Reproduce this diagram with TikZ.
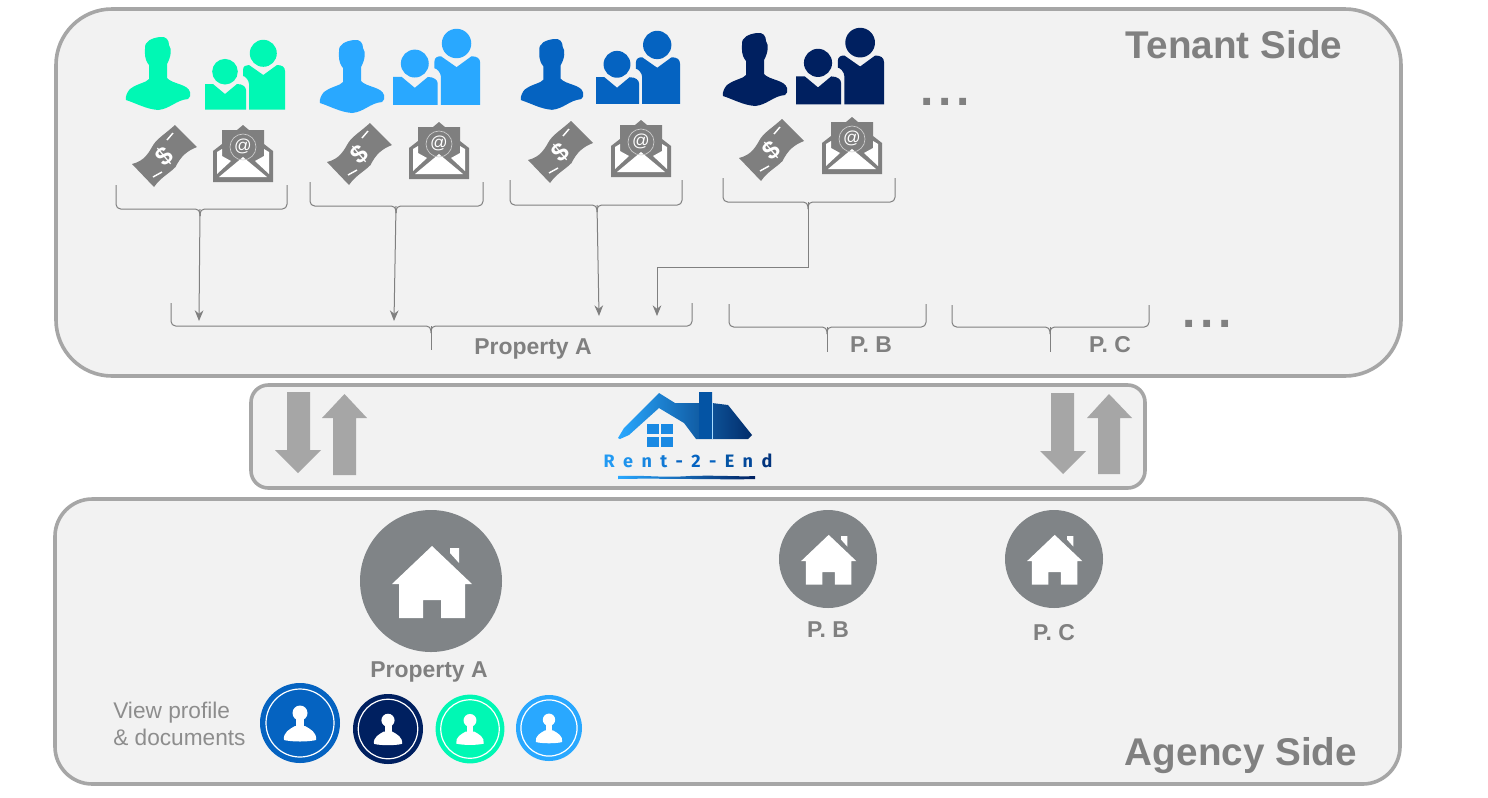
\documentclass[tikz,border=0pt]{standalone}
\usepackage{fontspec}
\setmainfont{Liberation Sans}
\newfontfamily\logofont{Fira Sans}
\definecolor{cgreen}{HTML}{00F8B4}
\definecolor{clight}{HTML}{29A8FF}
\definecolor{cmid}{HTML}{0563C1}
\definecolor{cdark}{HTML}{002060}
\definecolor{boxfill}{HTML}{F2F2F2}
\definecolor{boxline}{HTML}{A6A6A6}
\definecolor{icongray}{HTML}{7F7F7F}
\definecolor{circgray}{HTML}{808487}
\definecolor{txtgray}{HTML}{808080}
\definecolor{arrowgray}{HTML}{A6A6A6}
\definecolor{linegray}{HTML}{808080}
\usetikzlibrary{arrows.meta}
\tikzset{
  panel/.style={draw=boxline,fill=boxfill,line width=2.7pt},
  title/.style={font=\fontsize{29}{30}\selectfont\bfseries,text=txtgray,inner sep=0pt},
  lab/.style={font=\fontsize{17.2}{20}\selectfont\bfseries,text=txtgray,inner sep=0pt},
  note/.style={font=\fontsize{17}{20.3}\selectfont,text=txtgray!90,inner sep=0pt,align=left},
  dotsnode/.style={font=\fontsize{36}{36}\selectfont\bfseries\addfontfeature{LetterSpace=10},text=txtgray,inner sep=0pt},
  bracket/.style={draw=linegray,line width=0.75pt,rounded corners=3.5pt},
  feed/.style={draw=linegray,line width=0.75pt,-{Stealth[length=8pt,width=6.5pt]}},
  flow/.style={fill=arrowgray,draw=none},
  pics/person/.style={code={
    \fill[#1] (2,0) .. controls (8,-1) and (11,3) .. (11,8) .. controls (14,12) and (13,20) .. (9,27)
      -- (9,41) .. controls (14,47) and (30,47) .. (32,55) .. controls (33,58) and (32,61) .. (30,62)
      .. controls (18,63) and (12,72) .. (0,73) .. controls (-12,72) and (-20,67) .. (-32,63)
      .. controls (-33,59) and (-30,54) .. (-28,52) .. controls (-20,46) and (-12,46) .. (-9,42)
      -- (-9,28) .. controls (-14,22) and (-13,16) .. (-13,12) .. controls (-14,4) and (-6,1) .. cycle;
  }},
  pics/pair/.style={code={
    \fill[#1] (58.3,13.3) circle[radius=13.5];
    \fill[#1] (20,31.7) circle[radius=12.8];
    \fill[#1] (38,30) .. controls (38,26) and (41,25) .. (44,25) -- (58.3,35) -- (72,25) .. controls (77,25) and (80,27) .. (80,31) -- (80,69.5) -- (44,69.5) -- (44,44) .. controls (44,40) and (40,36) .. (38,36) -- cycle;
    \fill[#1] (0,44) -- (8,44) -- (20,54) -- (32,44) .. controls (38,44) and (41,47) .. (41,50) -- (41,69.5) -- (0,69.5) -- cycle;
  }},
  pics/money/.style={code={
    \fill[icongray] (-33,9) .. controls (-20,6) and (-16,-3) .. (-11.5,-10.5) .. controls (-7,-17) and (0,-21) .. (10,-30)
      -- (32,-8) .. controls (22,-4) and (16,1) .. (10.5,12) .. controls (5,18) and (-4,22) .. (-11,32) -- cycle;
    \draw[white,line width=1.1pt] (2,-15) -- (8,-22);
    \draw[white,line width=1.1pt] (-12,22) -- (-3,17);
    \node[inner sep=0pt,text=white,rotate=40,font=\fontsize{19}{19}\selectfont\bfseries] at (-1,1) {\$};
  }},
  pics/mail/.style={code={
    \fill[icongray] (-30,26) -- (-21,19) -- (-21,5) -- (-6,5) -- (0,0) -- (6,5) -- (21,5) -- (21,19) -- (30,26) -- (30,57) -- (-30,57) -- cycle;
    \fill[white] (-26,27) -- (-21,24) -- (-21,31) -- (-12,36) -- (-26,49) -- cycle;
    \fill[white] (26,27) -- (21,24) -- (21,31) -- (12,36) -- (26,49) -- cycle;
    \fill[white] (-24,52) -- (0,32) -- (24,52) -- cycle;
    \draw[boxfill!70!icongray,line width=0.5pt] (0,22) circle[radius=13];
    \node[inner sep=0pt,text=white,font=\fontsize{13}{13}\selectfont] at (0,21) {@};
  }},
  pics/house/.style={code={
    \fill[white] (1,-35) -- (41,3) -- (34,3) -- (34,37) -- (10,37) -- (10,19) -- (-8,19) -- (-8,37) -- (-32,37) -- (-32,3) -- (-39,3) -- cycle;
    \fill[white] (19,-33) -- (28,-33) -- (28,-18) -- (19,-28) -- cycle;
  }},
  pics/avatar/.style={code={
    \fill[#1] (0,0) circle[radius=40];
    \draw[white,line width=0.9pt] (0,0) circle[radius=34];
    \fill[white] (0,-10) circle[radius=7.5];
    \fill[white] (-4,-6) rectangle (4,5);
    \fill[white] (-16,17) .. controls (-17,9) and (-10,6) .. (-5,3) -- (5,3) .. controls (10,6) and (17,9) .. (16,17) .. controls (8,19) and (-8,19) .. cycle;
  }}
}
\newcommand{\mybrace}[6]{% x1 x2 tip ytop ybot name
  \draw[bracket] (#1,#4) -- (#1,#5) -- (#3,#5) -- (#3,#5+7);
  \draw[bracket] (#2,#4) -- (#2,#5) -- (#3,#5) -- (#3,#5+7);
  \coordinate (#6) at (#3,#5);
}
\newcommand{\logoch}[2]{\textcolor{#1}{#2}\kern6.3pt}
\begin{document}
\begin{tikzpicture}[x=0.75pt,y=-0.75pt]
\useasboundingbox (0,0) rectangle (1488,797);
\fill[white] (0,0) rectangle (1488,797);
% panels
\draw[panel,rounded corners=42pt] (56,9) rectangle (1401,376);
\draw[panel,rounded corners=13pt] (251,385) rectangle (1145,488);
\draw[panel,rounded corners=28pt] (55,499) rectangle (1400,784);
\node[title,anchor=center] (tenant) at (1234,45) {Tenant Side};
\node[title,anchor=center] (agency) at (1241,756) {Agency Side};
% people
\pic at (158,37) {person=cgreen};
\pic at (205,40) {pair=cgreen};
\pic at (352,40) {person=clight};
\pic[scale=1.09] at (393,29) {pair=clight};
\pic[scale=0.97] at (552,39) {person=cmid};
\pic[scale=1.05] at (596,31) {pair=cmid};
\pic at (755,33) {person=cdark};
\pic[scale=1.1] at (796,28) {pair=cdark};
\node[dotsnode] (dotsa) at (945,102) {...};
\node[dotsnode] (dotsb) at (1207,324) {...};
% money and mail
\pic at (165,155) {money};
\pic at (360,153) {money};
\pic at (561,151) {money};
\pic at (772,149) {money};
\pic at (243,125) {mail};
\pic at (439,122) {mail};
\pic at (641,120) {mail};
\pic at (852,117) {mail};
% braces
\mybrace{116}{287}{200}{185}{209}{ga}
\mybrace{310}{483}{396}{182}{206}{gb}
\mybrace{510}{682}{597}{180}{205}{gc}
\mybrace{723}{895}{808}{178}{202}{gd}
\mybrace{171}{692}{431}{303}{326}{pa}
\mybrace{729}{926}{827}{304}{327}{pb}
\mybrace{952}{1149}{1050}{305}{327}{pc}
\coordinate (ta) at (199,321);
\coordinate (tb) at (394,321);
\coordinate (tc) at (599,316);
\coordinate (td) at (657,316);
\coordinate (pae) at (431,350);
\coordinate (pbe) at (827,352);
\coordinate (pce) at (1050,352);
\coordinate (bend) at (808,267);
\draw[feed] (ga) -- (ta);
\draw[feed] (gb) -- (tb);
\draw[feed] (gc) -- (tc);
\draw[feed] (gd) -- (bend) -| (td);
\draw[draw=linegray,line width=0.75pt] (pa) -- (pae);
\draw[draw=linegray,line width=0.75pt] (pb) -- (pbe);
\draw[draw=linegray,line width=0.75pt] (pc) -- (pce);
\node[lab] (la) at (533,349) {Property A};
\node[lab] (lb) at (871,345) {P. B};
\node[lab] (lc) at (1110,345) {P. C};
% exchange arrows
\fill[flow] (287,392) -- (310,392) -- (310,450) -- (321,450) -- (298,473) -- (275,450) -- (287,450) -- cycle;
\fill[flow] (333,475) -- (356,475) -- (356,418) -- (367,418) -- (344.5,394) -- (322,418) -- (333,418) -- cycle;
\fill[flow] (1051,393) -- (1074,393) -- (1074,451) -- (1086,451) -- (1063,474) -- (1040,451) -- (1051,451) -- cycle;
\fill[flow] (1098,474) -- (1120,474) -- (1120,418) -- (1132,418) -- (1109,394) -- (1087,418) -- (1098,418) -- cycle;
% logo
\shade[left color=clight,middle color=cmid,right color=black!20!cdark!75!cmid]
  (618,438) -- (624,428) -- (659,393) -- (675,403) -- (699,403) -- (699,392) -- (712,392) -- (712,403) -- (728,405) -- (752,435) -- (748,439) -- (696,439) -- (684,423) -- (659,408) -- (629,435) -- (620,439) -- cycle;
\fill[cmid!85!black] (699,392) rectangle (712,439);
\draw[white!60!clight,line width=0.4pt] (712,403) -- (712,439);
\foreach \wx/\wy in {647/424,661/424,647/437,661/437}
  \fill[clight!55!cmid] (\wx,\wy) rectangle ++(12,10);
\node[inner sep=0pt,font=\logofont\fontsize{13.5}{14}\selectfont\bfseries] (logo) at (688,461)
 {\logoch{clight!80!cmid}{R}\logoch{clight!70!cmid}{e}\logoch{clight!50!cmid}{n}\logoch{clight!30!cmid}{t}\logoch{cmid}{-}\logoch{cmid}{2}\logoch{cmid}{-}\logoch{cmid!85!black}{E}\logoch{cmid!60!cdark}{n}\textcolor{cmid!30!cdark}{d}};
\shade[left color=clight,right color=cdark] (618,476) .. controls (650,475) and (660,478) .. (690,476) .. controls (720,475) and (740,477) .. (755,476) -- (755,479) .. controls (730,480) and (660,478) .. (618,479) -- cycle;
% agency side
\fill[circgray] (431,581) circle[radius=71];
\pic at (431,581) {house};
\fill[circgray] (828,559) circle[radius=49];
\pic[scale=0.69] at (828,559) {house};
\fill[circgray] (1054,559) circle[radius=49];
\pic[scale=0.69] at (1054,559) {house};
\node[lab] (ha) at (429,672) {Property A};
\node[lab] (hb) at (828,630) {P. B};
\node[lab] (hc) at (1054,633) {P. C};
\node[note,anchor=west] (view) at (113,724) {View profile\\\& documents};
\pic at (300,723) {avatar=cmid};
\pic[scale=0.875] at (388,729) {avatar=cdark};
\pic[scale=0.86] at (470,729) {avatar=cgreen};
\pic[scale=0.825] at (549,728) {avatar=clight};
\end{tikzpicture}
\end{document}
